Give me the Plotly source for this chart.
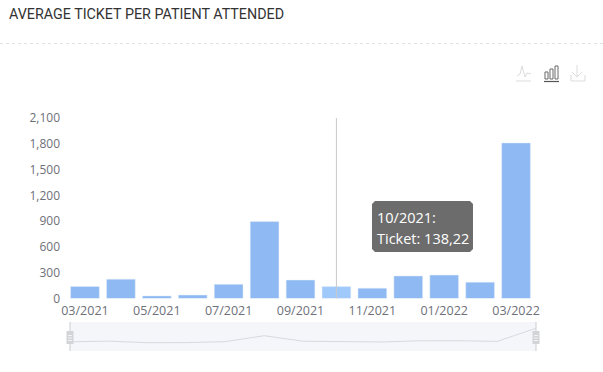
import plotly.graph_objects as go

W, H = 603, 372
months = ["03/2021", "04/2021", "05/2021", "06/2021", "07/2021", "08/2021", "09/2021",
          "10/2021", "11/2021", "12/2021", "01/2022", "02/2022", "03/2022"]
ticket = [140, 225, 30, 40, 165, 895, 215, 138.22, 120, 262, 272, 190, 1810]
y_ticks = [0, 300, 600, 900, 1200, 1500, 1800, 2100]
x_ticks = months[::2]
title = "AVERAGE TICKET PER PATIENT ATTENDED"
tooltip_month = "10/2021"
tooltip_value = "138,22"

BAR = "#8fb9f3"
HI = "#9fc8fb"
LBL = "#6e7079"
FONT = "Open Sans"


def px(x):
    return x / W


def py(y):
    return 1 - y / H


def path(points):
    return "M " + " L ".join(f"{px(x):.4f},{py(y):.4f}" for x, y in points)


colors = [HI if m == tooltip_month else BAR for m in months]

fig = go.Figure()
fig.add_trace(go.Bar(x=months, y=ticket, marker_color=colors, width=0.8,
                     xaxis="x", yaxis="y", hoverinfo="skip", showlegend=False))
fig.add_trace(go.Scatter(x=months, y=ticket, mode="lines", line=dict(color="#d6dae0", width=1),
                         xaxis="x2", yaxis="y2", hoverinfo="skip", showlegend=False))

shapes = [
    dict(type="line", xref="paper", yref="paper", x0=0, x1=1, y0=py(43.5), y1=py(43.5),
         line=dict(color="#e2e2e2", width=1, dash="dot")),
    dict(type="rect", xref="paper", yref="paper", x0=px(70), x1=px(536), y0=py(351), y1=py(322),
         fillcolor="#f4f6f9", line=dict(width=0), layer="below"),
    dict(type="line", xref="x", yref="paper", x0=tooltip_month, x1=tooltip_month,
         y0=py(298.5), y1=py(118), line=dict(color="#c8c8c8", width=1)),
]
# dataZoom handles
for cx in (70, 536):
    shapes.append(dict(type="line", xref="paper", yref="paper", x0=px(cx), x1=px(cx), y0=py(351), y1=py(322),
                       line=dict(color="#c9cdd3", width=1)))
    shapes.append(dict(type="rect", xref="paper", yref="paper", x0=px(cx - 3.5), x1=px(cx + 3.5),
                       y0=py(344), y1=py(331), fillcolor="#d2d4d8", line=dict(width=0)))
    for yy in (335.5, 338, 340.5):
        shapes.append(dict(type="line", xref="paper", yref="paper", x0=px(cx - 2), x1=px(cx + 2),
                           y0=py(yy), y1=py(yy), line=dict(color="#f2f2f2", width=1)))
# toolbox icons
icon_light = dict(color="#dcdcdc", width=1)
icon_dark = dict(color="#6a6a6a", width=1)
for pts, ln in [
    ([(516, 81), (531, 81)], icon_light),
    ([(517, 76), (520, 74), (522, 66), (525, 77), (527, 73), (531, 74)], icon_light),
    ([(544, 81.5), (559, 81.5)], dict(color="#555", width=1.2)),
    ([(545, 79), (545, 72), (548, 72), (548, 79), (545, 79)], icon_dark),
    ([(550, 79), (550, 69), (553, 69), (553, 79), (550, 79)], icon_dark),
    ([(555, 79), (555, 66), (558, 66), (558, 79), (555, 79)], icon_dark),
    ([(577, 65), (577, 77)], icon_light),
    ([(572, 72), (577, 77), (582, 72)], icon_light),
    ([(571, 75), (571, 81), (585, 81), (585, 75)], icon_light),
]:
    shapes.append(dict(type="path", xref="paper", yref="paper", path=path(pts), line=ln))
# tooltip box
shapes.append(dict(type="path", xref="paper", yref="paper", fillcolor="#6c6c6c", line=dict(width=0),
                   path=path([(375, 201), (470, 201), (473, 204), (473, 249), (470, 252),
                              (375, 252), (372, 249), (372, 204), (375, 201)])))

annotations = [
    dict(text=title, xref="paper", yref="paper", x=px(7), y=py(14), xanchor="left", yanchor="middle",
         showarrow=False, font=dict(family="Roboto", size=14.3, color="#333333")),
    dict(text=f"{tooltip_month}:", xref="paper", yref="paper", x=px(375), y=py(217), xanchor="left",
         yanchor="middle", showarrow=False, font=dict(family=FONT, size=14.5, color="#ffffff")),
    dict(text=f"Ticket: {tooltip_value}", xref="paper", yref="paper", x=px(375), y=py(238), xanchor="left",
         yanchor="middle", showarrow=False, font=dict(family=FONT, size=14.5, color="#ffffff")),
]

fig.update_layout(
    width=W, height=H, margin=dict(l=0, r=0, t=0, b=0), paper_bgcolor="white", plot_bgcolor="white",
    bargap=0.2, shapes=shapes, annotations=annotations,
    font=dict(family=FONT, size=12, color=LBL),
    xaxis=dict(domain=[px(67), px(534)], type="category", categoryorder="array", categoryarray=months,
               range=[-0.5, 12.5], tickmode="array", tickvals=x_ticks, ticktext=x_ticks,
               anchor="y", showgrid=False, zeroline=False, showline=False, ticks="", ticklen=0,
               tickangle=0, tickfont=dict(family=FONT, size=12.5, color=LBL), automargin=False,
               ticklabelstandoff=3),
    yaxis=dict(domain=[py(298.5), py(118)], range=[0, 2100], tickmode="array", tickvals=y_ticks,
               tickformat=",d", anchor="x", showgrid=False, zeroline=False, showline=False, ticks="",
               tickfont=dict(family=FONT, size=12, color=LBL), automargin=False,
               ticklabelstandoff=6),
    xaxis2=dict(domain=[px(70), px(536)], type="category", categoryorder="array", categoryarray=months,
                range=[0, 12], anchor="y2", visible=False),
    yaxis2=dict(domain=[py(351), py(328)], range=[-1000, 1850], anchor="x2", visible=False),
)

fig.write_html("out.html", config=dict(displayModeBar=False),
               post_script="document.body.style.margin='0';document.body.style.overflow='hidden';")
